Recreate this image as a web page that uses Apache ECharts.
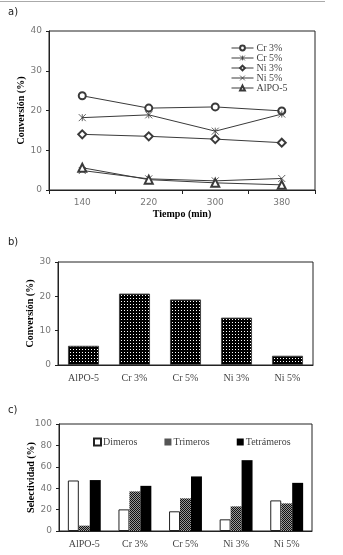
<!DOCTYPE html>
<html>
<head>
<meta charset="utf-8">
<script src="https://cdn.jsdelivr.net/npm/echarts@6/dist/echarts.min.js"></script>
<style>
  html, body { margin: 0; padding: 0; background: #fff; }
  #chart { width: 343px; height: 555px; }
</style>
</head>
<body>
<div id="chart"></div>
<script>
// a) conversion vs time
const tiempos = ['140', '220', '300', '380']
const cr3 = [23.7, 20.6, 20.9, 19.9]
const cr5 = [18.2, 18.9, 14.8, 19.1]
const ni3 = [14.0, 13.5, 12.8, 11.9]
const ni5 = [4.9, 2.8, 2.3, 2.9]
const alpo = [5.6, 2.6, 1.8, 1.3]

// b) conversion per catalyst
const catalizadores = ['AlPO-5', 'Cr 3%', 'Cr 5%', 'Ni 3%', 'Ni 5%']
const conversion = [5.6, 20.8, 19.1, 13.8, 2.7]

// c) selectivity
const dimeros = [47.2, 20.2, 18.4, 10.9, 28.6]
const trimeros = [5.0, 37.0, 30.5, 23.0, 25.8]
const tetrameros = [47.6, 42.2, 51.0, 66.2, 45.0]

const serif = '"Liberation Serif", "DejaVu Serif", serif'
const sans = '"DejaVu Sans", sans-serif'
const ink = '#222'
const lineInk = '#3a3a3a'

function pattern(size, draw) {
  const c = document.createElement('canvas')
  c.width = size
  c.height = size
  draw(c.getContext('2d'))
  return { image: c, repeat: 'repeat' }
}

// black with small white dots
const dots = pattern(3, ctx => {
  ctx.fillStyle = '#000'
  ctx.fillRect(0, 0, 3, 3)
  ctx.fillStyle = '#fff'
  ctx.fillRect(1, 1, 1, 1)
})

// dark grey checker
const checker = pattern(2, ctx => {
  ctx.fillStyle = '#111'
  ctx.fillRect(0, 0, 2, 2)
  ctx.fillStyle = '#999'
  ctx.fillRect(1, 0, 1, 1)
  ctx.fillRect(0, 1, 1, 1)
})

const starX = 'path://M0,0L10,10M10,0L0,10M5,0L5,10'
const crossX = 'path://M0,0L10,10M10,0L0,10'

function lineSeries(name, data, symbol, size) {
  return {
    name,
    type: 'line',
    xAxisIndex: 0,
    yAxisIndex: 0,
    data,
    symbol,
    symbolSize: size,
    lineStyle: { color: lineInk, width: 1 },
    itemStyle: { color: lineInk, borderColor: lineInk, borderWidth: 0.8 },
    emphasis: { disabled: true }
  }
}

const valueAxis = (gridIndex, max, interval, nameGap, name) => ({
  type: 'value',
  gridIndex,
  min: 0,
  max,
  interval,
  name,
  nameLocation: 'middle',
  nameGap,
  nameMoveOverlap: false,
  nameTextStyle: { fontFamily: serif, fontWeight: 'bold', fontSize: 10, color: '#000' },
  axisLine: { show: true, lineStyle: { color: ink } },
  axisTick: { show: true, length: 3, lineStyle: { color: ink } },
  axisLabel: { fontFamily: sans, fontSize: 9, color: '#777', margin: 7 },
  splitLine: { show: false }
})

const catAxis = (gridIndex, data, extra) => Object.assign({
  type: 'category',
  gridIndex,
  data,
  axisLine: { lineStyle: { color: ink } },
  axisTick: { show: false },
  axisLabel: { fontFamily: serif, fontSize: 10, color: '#444', margin: 8 },
  splitLine: { show: false }
}, extra)

const chart = echarts.init(document.getElementById('chart'))

chart.setOption({
  animation: false,
  backgroundColor: '#fff',
  title: [
    { text: 'a)', left: 3, top: 2, textStyle: { fontFamily: sans, fontSize: 10, fontWeight: 'normal', color: '#222' } },
    { text: 'b)', left: 3, top: 232, textStyle: { fontFamily: sans, fontSize: 10, fontWeight: 'normal', color: '#222' } },
    { text: 'c)', left: 3, top: 400, textStyle: { fontFamily: sans, fontSize: 10, fontWeight: 'normal', color: '#222' } }
  ],
  graphic: [
    { type: 'line', shape: { x1: 0, y1: 1.5, x2: 325, y2: 1.5 }, style: { stroke: '#aaa', lineWidth: 1 } }
  ],
  grid: [
    { left: 49, top: 31, width: 266, height: 159, show: true, borderColor: ink, borderWidth: 1 },
    { left: 58, top: 262, width: 255, height: 103, show: true, borderColor: ink, borderWidth: 1 },
    { left: 59, top: 424, width: 253, height: 107, show: true, borderColor: ink, borderWidth: 1 }
  ],
  legend: [
    {
      orient: 'vertical',
      left: 226,
      top: 38,
      itemWidth: 22,
      itemHeight: 6,
      itemGap: 0,
      itemStyle: { borderWidth: 0.8 },
      lineStyle: { width: 1 },
      textStyle: { fontFamily: serif, fontSize: 10, color: '#444', lineHeight: 9, padding: [0, 0, 0, -2] },
      data: ['Cr 3%', 'Cr 5%', 'Ni 3%', 'Ni 5%', 'AlPO-5']
    },
    {
      left: 88,
      top: 432,
      icon: 'rect',
      itemWidth: 7,
      itemHeight: 7,
      itemGap: 27,
      textStyle: { fontFamily: serif, fontSize: 10, color: '#444', padding: [0, 0, 0, -3] },
      data: ['Dimeros', 'Trimeros', 'Tetrámeros']
    }
  ],
  xAxis: [
    catAxis(0, tiempos, {
      name: 'Tiempo (min)',
      nameLocation: 'middle',
      nameGap: 19,
      nameMoveOverlap: false,
      nameTextStyle: { fontFamily: serif, fontWeight: 'bold', fontSize: 10, color: '#000' },
      axisTick: { show: true, length: 4, lineStyle: { color: ink } },
      axisLabel: { fontFamily: sans, fontSize: 9, color: '#777', margin: 8 }
    }),
    catAxis(1, catalizadores),
    catAxis(2, catalizadores)
  ],
  yAxis: [
    valueAxis(0, 40, 10, 23, 'Conversión (%)'),
    valueAxis(1, 30, 10, 23, 'Conversión (%)'),
    valueAxis(2, 100, 20, 23, 'Selectividad (%)')
  ],
  series: [
    lineSeries('Cr 3%', cr3, 'emptyCircle', 7),
    lineSeries('Cr 5%', cr5, starX, 7),
    lineSeries('Ni 3%', ni3, 'emptyDiamond', 8),
    lineSeries('Ni 5%', ni5, crossX, 7),
    lineSeries('AlPO-5', alpo, 'emptyTriangle', 8),
    {
      name: 'Conversión',
      type: 'bar',
      xAxisIndex: 1,
      yAxisIndex: 1,
      data: conversion,
      barCategoryGap: '39%',
      itemStyle: { color: dots, borderColor: '#444', borderWidth: 1 },
      emphasis: { disabled: true }
    },
    {
      name: 'Dimeros',
      type: 'bar',
      xAxisIndex: 2,
      yAxisIndex: 2,
      data: dimeros,
      barGap: '0%',
      barCategoryGap: '35%',
      itemStyle: { color: '#fff', borderColor: ink, borderWidth: 1 },
      emphasis: { disabled: true }
    },
    {
      name: 'Trimeros',
      type: 'bar',
      xAxisIndex: 2,
      yAxisIndex: 2,
      data: trimeros,
      barGap: '0%',
      barCategoryGap: '35%',
      itemStyle: { color: checker },
      emphasis: { disabled: true }
    },
    {
      name: 'Tetrámeros',
      type: 'bar',
      xAxisIndex: 2,
      yAxisIndex: 2,
      data: tetrameros,
      barGap: '0%',
      barCategoryGap: '35%',
      itemStyle: { color: '#000' },
      emphasis: { disabled: true }
    }
  ]
})
</script>
</body>
</html>
